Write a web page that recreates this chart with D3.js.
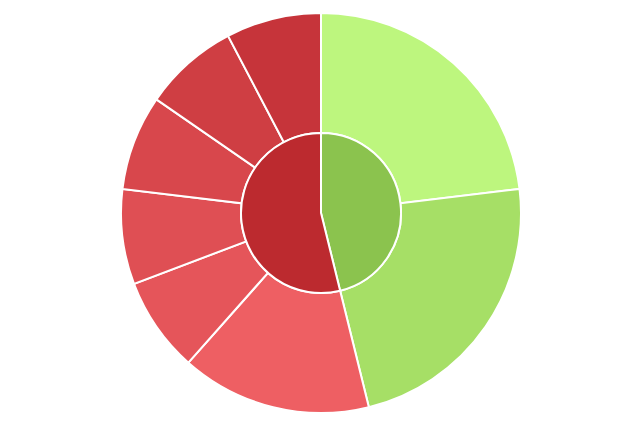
<!DOCTYPE html>
<html>
<head>
<meta charset="utf-8">
<script src="https://cdn.jsdelivr.net/npm/d3@7"></script>
<style>
  html, body { margin: 0; padding: 0; background: #fff; }
</style>
</head>
<body>
<svg id="chart" width="640" height="427"></svg>
<script>
// inner ring: two groups
var groups = ["Green", "Red"]
var groupColors = ["#8bc34e", "#bc2a2f"]

// outer ring: slices per group, in clockwise order from the top
var outerGroup = ["Green", "Green", "Red", "Red", "Red", "Red", "Red", "Red"]
var outerValues = [3, 3, 2, 1, 1, 1, 1, 1]
var outerColors = ["#bdf67e", "#a6df66", "#ee5f63", "#e5555a", "#df4f54", "#d8474c", "#cf3e43", "#c6343a"]

var cx = 321, cy = 213
var rInner = 80, rOuter = 200

var svg = d3.select("#chart")
var g = svg.append("g").attr("transform", "translate(" + cx + "," + cy + ")")

var groupTotals = groups.map(function(name) {
  return d3.sum(outerValues.filter(function(v, i) { return outerGroup[i] == name }))
})

var pie = d3.pie().sort(null).value(function(d) { return d })

var innerArc = d3.arc().innerRadius(0).outerRadius(rInner)
var outerArc = d3.arc().innerRadius(rInner).outerRadius(rOuter)

g.selectAll("path.outer")
  .data(pie(outerValues))
  .enter()
  .append("path")
    .attr("class", "outer")
    .attr("d", outerArc)
    .attr("fill", function(d, i) { return outerColors[i] })
    .attr("stroke", "#fff")
    .attr("stroke-width", 2)

g.selectAll("path.inner")
  .data(pie(groupTotals))
  .enter()
  .append("path")
    .attr("class", "inner")
    .attr("d", innerArc)
    .attr("fill", function(d, i) { return groupColors[i] })
    .attr("stroke", "#fff")
    .attr("stroke-width", 2)
</script>
</body>
</html>
